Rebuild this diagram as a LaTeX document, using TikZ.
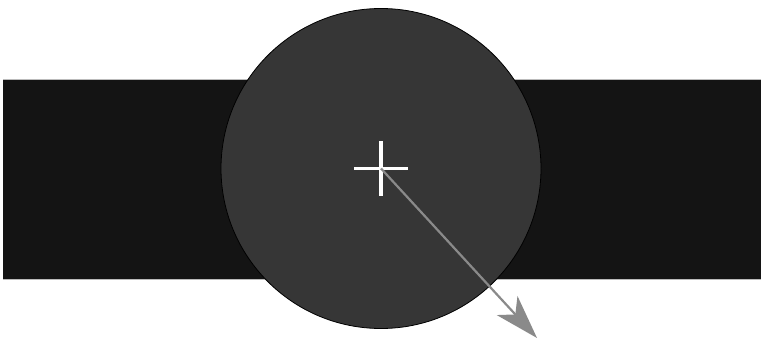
\documentclass[tikz,border=0pt]{standalone}
\usetikzlibrary{arrows.meta}
\definecolor{bandc}{HTML}{141414}
\definecolor{discc}{HTML}{363636}
\definecolor{edgec}{HTML}{BBBBBB}
\definecolor{arrc}{HTML}{8A8A8A}
\tikzset{
  band/.style={fill=bandc, draw=none},
  bandedge/.style={draw=edgec, line width=1.2pt},
  disc/.style={circle, fill=discc, draw=black, line width=0.8pt, minimum size=320pt, inner sep=0pt},
  crossline/.style={draw=white, line width=3.2pt},
  pointer/.style={draw=arrc, line width=2.2pt, -{Stealth[length=44pt, width=28pt, inset=12pt]}}
}
\begin{document}
\begin{tikzpicture}[x=1pt, y=-1pt]
  \useasboundingbox (0,0) rectangle (762,339);
  \fill[band] (3,80) rectangle (761,279);
  \draw[bandedge] (3,79.5) -- (761,79.5);
  \draw[bandedge] (3,279.5) -- (761,279.5);
  \node[disc] (c) at (381,168.5) {};
  \coordinate (tip) at (537,338);
  \draw[crossline] ([xshift=-27pt]c.center) -- ([xshift=27pt]c.center);
  \draw[crossline] ([yshift=-27pt]c.center) -- ([yshift=27pt]c.center);
  \draw[pointer] (c.center) -- (tip);
\end{tikzpicture}
\end{document}
